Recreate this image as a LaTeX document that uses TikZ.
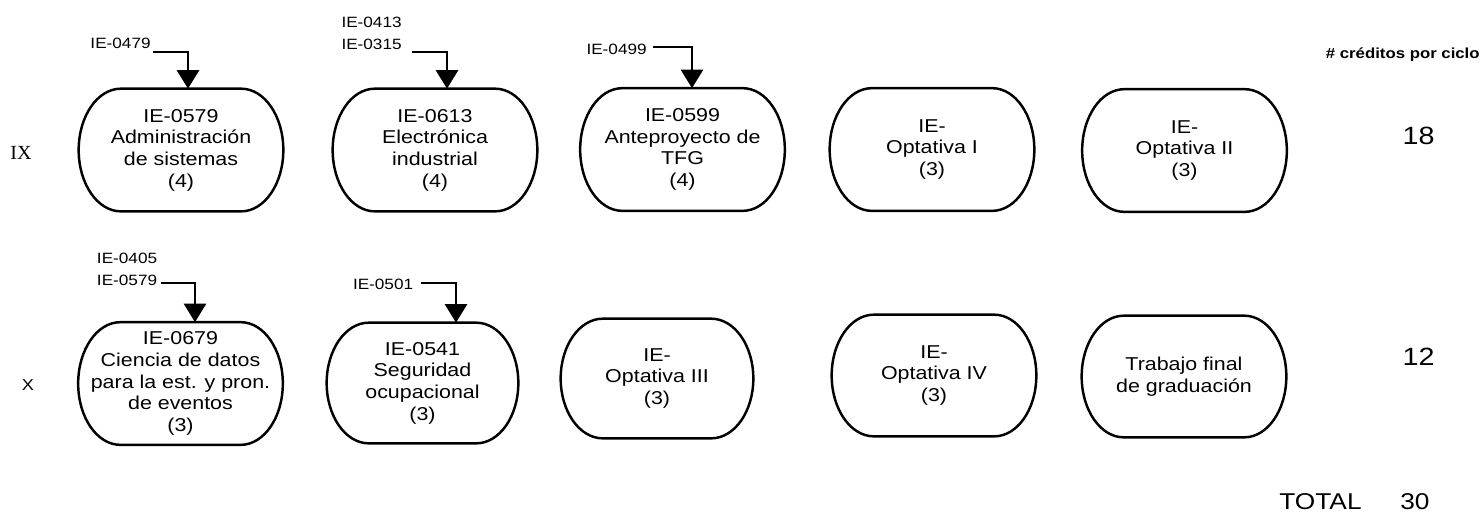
\documentclass[tikz,border=0pt]{standalone}
\usepackage{fontspec}
\setmainfont{Liberation Sans}[FakeStretch=1.15]
\newfontfamily\romanIX{Liberation Serif}
\usetikzlibrary{arrows.meta,calc}
\begin{document}
\begin{tikzpicture}[x=0.02cm,y=-0.02cm,
  course/.style={align=center, inner sep=0pt,
    minimum width=4.08cm, minimum height=2.44cm, font=\fontsize{10.6}{12.35}\selectfont},
  ovalline/.style={line width=1.4pt},
  pre/.style={line width=1.5pt, -{Triangle[width=12.5pt,length=10.5pt]}},
  lbl/.style={font=\fontsize{8.5}{12.5}\selectfont, inner sep=0pt, align=left},
  num/.style={font=\fontsize{14.2}{16}\selectfont, inner sep=0pt},
  tot/.style={font=\fontsize{13}{15}\selectfont, inner sep=0pt}]
\useasboundingbox (0,0) rectangle (1481,512);

% cycle labels
\node[inner sep=0pt, font=\romanIX\fontsize{11.4}{12}\selectfont] (cIX) at (21,153) {IX};
\node[inner sep=0pt, font=\fontsize{9}{10}\selectfont] (cX) at (28,385) {X};

% row IX
\node[course] (c579) at (181,150) {IE-0579\\Administración\\de sistemas\\(4)};
\node[course] (c613) at (435,150) {IE-0613\\Electrónica\\industrial\\(4)};
\node[course] (c599) at (682.5,149.5) {IE-0599\\Anteproyecto de\\TFG\\(4)};
\node[course] (opt1) at (932,149.5) {IE-\\Optativa I\\(3)};
\node[course] (opt2) at (1184.5,150.5) {IE-\\Optativa II\\(3)};

% row X
\node[course] (c679) at (180.5,383.5) {IE-0679\\Ciencia de datos\\para la est. y pron.\\de eventos\\(3)};
\node[course, minimum width=3.82cm, minimum height=2.4cm] (c541) at (422.5,383) {IE-0541\\Seguridad\\ocupacional\\(3)};
\node[course, minimum width=3.84cm, minimum height=2.38cm] (opt3) at (657,378.5) {IE-\\Optativa III\\(3)};
\node[course, minimum height=2.42cm] (opt4) at (934,375.5) {IE-\\Optativa IV\\(3)};
\node[course, minimum height=2.42cm] (tfg) at (1184,376.5) {Trabajo final\\de graduación};

% oval outlines of the course boxes
\foreach \b in {c579,c613,c599,opt1,opt2,c679,c541,opt3,opt4,tfg}{
  \draw[ovalline] let \p1=(\b.north east), \p2=(\b.south west) in
    ({\x2+24pt},\y1) -- ({\x1-24pt},\y1)
    arc[start angle=90, end angle=-90, x radius=24pt, y radius={(\y1-\y2)/2}]
    -- ({\x2+24pt},\y2)
    arc[start angle=-90, end angle=-270, x radius=24pt, y radius={(\y1-\y2)/2}]
    -- cycle;
}

% prerequisites
\node[lbl, anchor=east] (p479) at (151,43) {IE-0479};
\coordinate (s579) at (153,52);
\draw[pre] (s579) -| ([xshift=0.14cm]c579.north);

\node[lbl, anchor=east] (p613) at (402,33) {IE-0413\\IE-0315};
\coordinate (s613) at (412,52);
\draw[pre] (s613) -| ([xshift=0.24cm]c613.north);

\node[lbl, anchor=east] (p599) at (647,49) {IE-0499};
\coordinate (s599) at (653,47);
\draw[pre] (s599) -| ([xshift=0.19cm]c599.north);

\node[lbl, anchor=east] (p679) at (157.5,269.5) {IE-0405\\IE-0579};
\coordinate (s679) at (161,283);
\draw[pre] (s679) -| ([xshift=0.29cm]c679.north);

\node[lbl, anchor=east] (p541) at (413.5,284) {IE-0501};
\coordinate (s541) at (421,283);
\draw[pre] (s541) -| ([xshift=0.67cm]c541.north);

% credits
\node[inner sep=0pt, anchor=east, font=\bfseries\fontsize{8.3}{10}\selectfont] (hdr) at (1480,55) {\# créditos por ciclo};
\node[num] (n18) at (1418.5,136) {18};
\node[num] (n12) at (1418.5,357) {12};
\node[tot, anchor=base west] (tl) at (1279,509) {TOTAL};
\node[tot, anchor=base west] (tv) at (1400,509) {30};
\end{tikzpicture}
\end{document}
